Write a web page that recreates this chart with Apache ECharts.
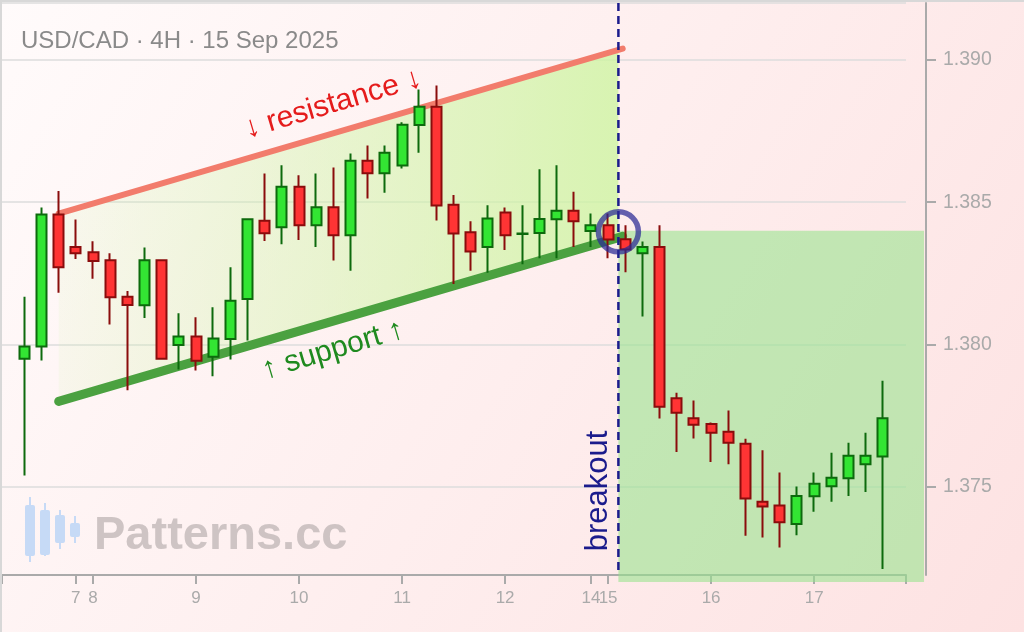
<!DOCTYPE html>
<html><head><meta charset="utf-8">
<script src="https://cdn.jsdelivr.net/npm/echarts@6/dist/echarts.min.js"></script>
<style>html,body{margin:0;padding:0;background:#fff}#c{width:1024px;height:632px}</style>
</head><body><div id="c"></div>
<script>
// ---- data ----
const opens = [1.37950,1.37993,1.38457,1.38343,1.38324,1.38296,1.38168,1.38138,1.38296,1.37998,
  1.38028,1.37957,1.38019,1.38160,1.38435,1.38412,1.38554,1.38419,1.38482,1.38384,
  1.38646,1.38602,1.38629,1.38771,1.38835,1.38491,1.38394,1.38343,1.38464,1.38388,
  1.38392,1.38440,1.38470,1.38399,1.38419,1.38370,1.38321,1.38343,1.37811,1.37741,
  1.37721,1.37693,1.37651,1.37447,1.37434,1.37369,1.37467,1.37502,1.37530,1.37579,1.37606];
const closes = [1.37993,1.38457,1.38271,1.38321,1.38293,1.38166,1.38139,1.38296,1.37950,1.38028,
  1.37943,1.38021,1.38154,1.38440,1.38391,1.38554,1.38419,1.38482,1.38384,1.38646,
  1.38602,1.38674,1.38772,1.38835,1.38488,1.38390,1.38327,1.38443,1.38384,1.38390,
  1.38441,1.38470,1.38433,1.38419,1.38369,1.38334,1.38343,1.37781,1.37760,1.37718,
  1.37690,1.37655,1.37459,1.37431,1.37375,1.37468,1.37511,1.37532,1.37609,1.37609,1.37741];
const lows = [1.37540,1.37944,1.38182,1.38300,1.38231,1.38070,1.37839,1.38093,1.37947,1.37912,
  1.37909,1.37888,1.37947,1.38014,1.38364,1.38352,1.38367,1.38343,1.38295,1.38259,
  1.38513,1.38533,1.38618,1.38674,1.38436,1.38213,1.38259,1.38252,1.38332,1.38282,
  1.38303,1.38303,1.38343,1.38343,1.38303,1.38254,1.38098,1.37740,1.37622,1.37670,
  1.37587,1.37579,1.37328,1.37322,1.37287,1.37330,1.37412,1.37447,1.37468,1.37482,1.37211];
const highs = [1.38168,1.38481,1.38539,1.38439,1.38363,1.38321,1.38188,1.38341,1.38298,1.38110,
  1.38096,1.38131,1.38271,1.38444,1.38601,1.38630,1.38595,1.38601,1.38622,1.38671,
  1.38699,1.38699,1.38781,1.38896,1.38910,1.38525,1.38433,1.38489,1.38481,1.38489,
  1.38616,1.38630,1.38537,1.38460,1.38460,1.38419,1.38362,1.38419,1.37830,1.37803,
  1.37726,1.37768,1.37669,1.37628,1.37550,1.37501,1.37550,1.37620,1.37655,1.37690,1.37873];
const dayTickIdx = [3,4,10,16,22,28,33,34,40,46];
const dayTickLabels = ['7','8','9','10','11','12','14','15','16','17'];
const xMin = -1.3, xMax = 51.35;
const yMin = 1.3719, yMax = 1.3920;
// channel (trend lines)
const chanX = [2, 34.85];
const resistance = [1.3846, 1.3904];
const support = [1.3780, 1.3838];
const breakoutX = 34.6;
const breakoutPrice = 1.38396;
// target zone after breakout
const zoneX = [34.6, 52.4];
const zoneY = [1.37165, 1.3840];

// ---- build ----
const candles = opens.map((o, i) => [i, o, closes[i], lows[i], highs[i]]);
const labelMap = {};
dayTickIdx.forEach((v, k) => labelMap[v] = dayTickLabels[k]);

const chart = echarts.init(document.getElementById('c'), null, {renderer: 'canvas'});
const FONT = 'Liberation Sans';

function interp(arr, x) {
  const t = (x - chanX[0]) / (chanX[1] - chanX[0]);
  return arr[0] + (arr[1] - arr[0]) * t;
}

const option = {
  animation: false,
  backgroundColor: {type: 'linear', x: 0, y: 0, x2: 1, y2: 1,
    colorStops: [{offset: 0, color: '#fffbfb'}, {offset: 1, color: '#fde2e2'}]},
  grid: {left: 2, right: 118, top: 3, bottom: 57, containLabel: false},
  xAxis: {
    type: 'value', min: xMin, max: xMax,
    axisLine: {onZero: false, lineStyle: {color: '#aaaaaa', width: 2}},
    axisTick: {customValues: [xMin].concat(dayTickIdx, [xMax]), length: 9, lineStyle: {color: '#aaaaaa', width: 2}},
    axisLabel: {customValues: dayTickIdx, formatter: v => labelMap[v] || '', color: '#aaaaaa',
      fontSize: 17, fontFamily: FONT, margin: 15},
    splitLine: {show: false}
  },
  yAxis: {
    type: 'value', position: 'right', offset: 20, min: yMin, max: yMax, splitNumber: 5,
    axisLine: {show: true, onZero: false, lineStyle: {color: '#aaaaaa', width: 2}},
    axisTick: {show: true, length: 10, lineStyle: {color: '#aaaaaa', width: 2}},
    axisLabel: {showMinLabel: false, showMaxLabel: false, formatter: v => v.toFixed(3),
      color: '#aaaaaa', fontSize: 19.5, fontFamily: FONT, margin: 17},
    splitLine: {lineStyle: {color: '#dcdcdc', width: 1.5}}
  },
  graphic: [
    {type: 'line', shape: {x1: 0, y1: 1, x2: 1024, y2: 1}, style: {stroke: '#d8d8d8', lineWidth: 2}, z: 100},
    {type: 'line', shape: {x1: 1, y1: 0, x2: 1, y2: 632}, style: {stroke: '#d8d8d8', lineWidth: 2}, z: 100},
    {type: 'text', left: 21, top: 29, style: {text: 'USD/CAD · 4H · 15 Sep 2025', fontSize: 24, fontFamily: FONT, fill: '#8a8a8a'}, z: 100},
    // watermark logo
    {type: 'group', left: 25, top: 497, z: 1, children: [
      {type: 'rect', shape: {x: 4, y: 0, width: 2, height: 65}, style: {fill: '#c6daf6'}},
      {type: 'rect', shape: {x: 0, y: 8, width: 10, height: 51, r: 2}, style: {fill: '#c6daf6'}},
      {type: 'rect', shape: {x: 19, y: 6, width: 2, height: 53}, style: {fill: '#c6daf6'}},
      {type: 'rect', shape: {x: 15, y: 13, width: 10, height: 45, r: 2}, style: {fill: '#c6daf6'}},
      {type: 'rect', shape: {x: 34, y: 13, width: 2, height: 39}, style: {fill: '#c6daf6'}},
      {type: 'rect', shape: {x: 30, y: 18, width: 10, height: 28, r: 2}, style: {fill: '#c6daf6'}},
      {type: 'rect', shape: {x: 49, y: 19, width: 2, height: 27}, style: {fill: '#c6daf6'}},
      {type: 'rect', shape: {x: 45, y: 26, width: 10, height: 14, r: 2}, style: {fill: '#c6daf6'}}
    ]},
    {type: 'text', left: 94, top: 513, z: 1, style: {text: 'Patterns.cc', fontSize: 47, fontWeight: 'bold', fontFamily: FONT, fill: 'rgba(190,180,180,0.75)'}},
    {type: 'text', x: 333, y: 104, rotation: 16.6 * Math.PI / 180, z: 100,
      style: {text: '↓ resistance ↓', fontSize: 30, fontFamily: FONT, fill: '#e51c1c', align: 'center', verticalAlign: 'middle'}},
    {type: 'text', x: 333, y: 350, rotation: 16.6 * Math.PI / 180, z: 100,
      style: {text: '↑ support ↑', fontSize: 30, fontFamily: FONT, fill: '#1f8a1f', align: 'center', verticalAlign: 'middle'}},
    {type: 'text', x: 598, y: 491, rotation: Math.PI / 2, z: 100,
      style: {text: 'breakout', fontSize: 31, fontFamily: FONT, fill: '#1b1b8c', align: 'center', verticalAlign: 'middle'}}
  ],
  series: [
    { // target zone
      type: 'custom', clip: false, silent: true, z: 1,
      data: [[zoneX[0], zoneY[1]]],
      renderItem: (p, api) => {
        const a = api.coord([zoneX[0], zoneY[1]]);
        const b = api.coord([zoneX[1], zoneY[0]]);
        return {type: 'rect', shape: {x: a[0], y: a[1], width: b[0] - a[0], height: b[1] - a[1]},
          style: {fill: 'rgba(150,228,140,0.58)'}};
      }
    },
    { // channel shading
      type: 'custom', clip: false, silent: true, z: 1,
      data: [[chanX[0], resistance[0]]],
      renderItem: (p, api) => {
        const pts = [
          api.coord([chanX[0], resistance[0]]),
          api.coord([breakoutX, interp(resistance, breakoutX)]),
          api.coord([breakoutX, interp(support, breakoutX)]),
          api.coord([chanX[0], support[0]])
        ];
        return {type: 'polygon', shape: {points: pts},
          style: {fill: new echarts.graphic.LinearGradient(0, 0, 1, 0, [
            {offset: 0, color: 'rgba(205,245,165,0.12)'},
            {offset: 1, color: 'rgba(205,245,160,0.78)'}])}};
      }
    },
    {type: 'line', z: 3, silent: true, symbol: 'none',
      data: [[chanX[0], resistance[0]], [chanX[1], resistance[1]]],
      lineStyle: {color: '#f27c6c', width: 6, cap: 'round'}},
    {type: 'line', z: 3, silent: true, symbol: 'none',
      data: [[chanX[0], support[0]], [chanX[1], support[1]]],
      lineStyle: {color: '#4ba140', width: 9, cap: 'round'}},
    {type: 'candlestick', z: 4, barWidth: 10.5,
      encode: {x: 0, y: [1, 2, 3, 4]},
      data: candles,
      itemStyle: {color: '#33e533', color0: '#ff3434', borderColor: '#0d6a0d', borderColor0: '#8a0c0c', borderWidth: 2}
    },
    {type: 'line', z: 5, silent: true, symbol: 'none',
      data: [[breakoutX, yMax], [breakoutX, yMin]],
      lineStyle: {color: '#1b1b8c', width: 2.5, type: [8, 5]}},
    {type: 'scatter', z: 6, silent: true, symbol: 'circle', symbolSize: 40,
      data: [[breakoutX, breakoutPrice]],
      itemStyle: {color: 'rgba(0,0,0,0)', borderColor: 'rgba(40,40,148,0.9)', borderWidth: 5.5}}
  ]
};
chart.setOption(option);
</script></body></html>
